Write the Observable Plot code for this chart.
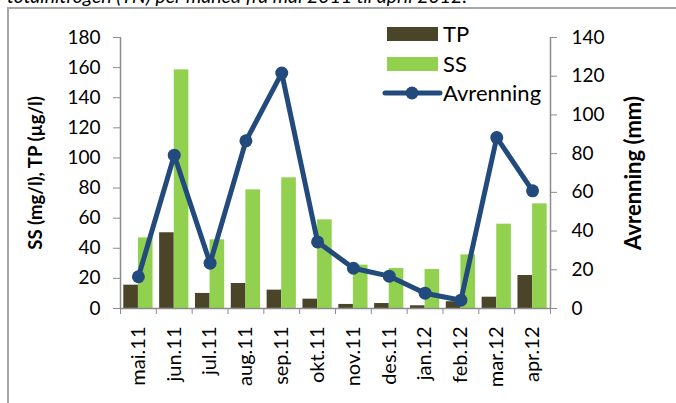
<!DOCTYPE html>
<html>
<head>
<meta charset="utf-8">
<script src="https://cdn.jsdelivr.net/npm/d3@7"></script>
<script src="https://cdn.jsdelivr.net/npm/@observablehq/plot@0.6"></script>
<style>
  html, body { margin: 0; padding: 0; background: #fff; }
  #wrap { position: relative; width: 676px; height: 403px; overflow: hidden; font-family: Lato, "Open Sans", sans-serif; }
  #border { position: absolute; left: 7px; top: 7px; right: -10px; bottom: -10px; border-left: 2px solid #a6a6a6; border-top: 2px solid #a6a6a6; }
  #chart { position: absolute; left: 0; top: 0; }
  #title { position: absolute; left: 0; top: 0; }
  #legend { position: absolute; left: 0; top: 0; }
</style>
</head>
<body>
<div id="wrap">
  <svg id="title" width="676" height="10"></svg>
  <div id="border"></div>
  <div id="chart"></div>
  <svg id="legend" width="676" height="120"></svg>
</div>
<script>
const titleText = "totalnitrogen (TN) per måned fra mai 2011 til april 2012.";
const months = ["mai.11","jun.11","jul.11","aug.11","sep.11","okt.11","nov.11","des.11","jan.12","feb.12","mar.12","apr.12"];
const tp = [15.5, 50.3, 10.0, 16.6, 12.2, 6.2, 2.7, 3.3, 1.8, 4.5, 7.5, 21.9];
const ss = [46.9, 158.5, 45.6, 78.8, 86.8, 58.9, 28.8, 26.6, 25.9, 35.6, 56.0, 69.5];
const avrenning = [16.4, 79.2, 23.4, 86.6, 121.6, 34.4, 20.8, 16.7, 7.9, 4.3, 88.3, 60.8];
const leftTicks = [0, 20, 40, 60, 80, 100, 120, 140, 160, 180];
const rightTicks = [0, 20, 40, 60, 80, 100, 120, 140];
const leftTitle = "SS (mg/l), TP (µg/l)";
const rightTitle = "Avrenning (mm)";
const seriesNames = ["TP", "SS", "Avrenning"];

const colTP = "#4a4429", colSS = "#92d050", colAv = "#234a7c", axisCol = "#8c8c8c";
const k = 180 / 140;

const data = months.map((m, i) => ({i, month: m, tp: tp[i], ss: ss[i], av: avrenning[i]}));

const chart = Plot.plot({
  width: 676, height: 403,
  marginLeft: 120, marginRight: 126, marginTop: 37, marginBottom: 95,
  x: {domain: [0, 12], axis: null},
  y: {domain: [0, 180], axis: null},
  style: {fontFamily: "Lato, 'Open Sans', sans-serif", fontSize: "19px", color: "#000", background: "transparent", overflow: "visible"},
  marks: [
    Plot.rectY(data, {x1: d => d.i, x2: d => d.i + 0.5, y: "tp", fill: colTP, insetLeft: 3.3}),
    Plot.rectY(data, {x1: d => d.i + 0.5, x2: d => d.i + 1, y: "ss", fill: colSS, insetRight: 3.3}),
    Plot.ruleY([0], {stroke: axisCol, strokeWidth: 1.5}),
    Plot.ruleX([0], {stroke: axisCol, strokeWidth: 1.5}),
    Plot.ruleX([12], {stroke: axisCol, strokeWidth: 1.5}),
    Plot.axisY({anchor: "left", ticks: leftTicks, tickSize: 7, tickPadding: 13, stroke: axisCol, label: null}),
    Plot.axisY({anchor: "right", ticks: rightTicks.map(v => v * k), tickFormat: d => String(Math.round(d / k)), tickSize: 6, tickPadding: 15, stroke: axisCol, label: null}),
    Plot.axisX({ticks: d3.range(13), tickSize: 6, tickFormat: () => "", stroke: axisCol, label: null}),
    Plot.axisX({ticks: months.map((m, i) => i + 0.5), tickFormat: d => months[Math.round(d - 0.5)], tickSize: 0, tickPadding: 18, tickRotate: -90, fontSize: 20, label: null}),
    Plot.line(data, {x: d => d.i + 0.5, y: d => d.av * k, stroke: colAv, strokeWidth: 5, strokeLinejoin: "round"}),
    Plot.dot(data, {x: d => d.i + 0.5, y: d => d.av * k, r: 6.5, fill: colAv}),
    Plot.text([leftTitle], {frameAnchor: "left", textAnchor: "middle", dx: -84, rotate: -90, fontWeight: "bold", fontSize: 18.5, fill: "#000"}),
    Plot.text([rightTitle], {frameAnchor: "right", textAnchor: "middle", dx: 83, rotate: -90, fontWeight: "bold", fontSize: 22, fill: "#000"})
  ]
});
document.getElementById("chart").appendChild(chart);

// cut-off title above frame
const tsvg = d3.select("#title");
tsvg.append("text").attr("x", 7).attr("y", 3).attr("font-family", "Lato, 'Open Sans', sans-serif")
  .attr("font-style", "italic").attr("font-size", 19.5).attr("fill", "#000").text(titleText);

// legend
const lg = d3.select("#legend");
const legY = [34, 64, 93];
seriesNames.forEach((name, j) => {
  const y = legY[j];
  if (j < 2) {
    lg.append("rect").attr("x", 387).attr("y", y - 7).attr("width", 51).attr("height", 14).attr("fill", j === 0 ? colTP : colSS);
  } else {
    lg.append("line").attr("x1", 385).attr("x2", 440).attr("y1", y).attr("y2", y).attr("stroke", colAv).attr("stroke-width", 5).attr("stroke-linecap", "round");
    lg.append("circle").attr("cx", 412).attr("cy", y).attr("r", 6.5).attr("fill", colAv);
  }
  lg.append("text").attr("x", 443).attr("y", y).attr("dy", "0.36em").attr("font-family", "Lato, 'Open Sans', sans-serif")
    .attr("font-size", 22).attr("fill", "#000").text(name);
});
</script>
</body>
</html>
